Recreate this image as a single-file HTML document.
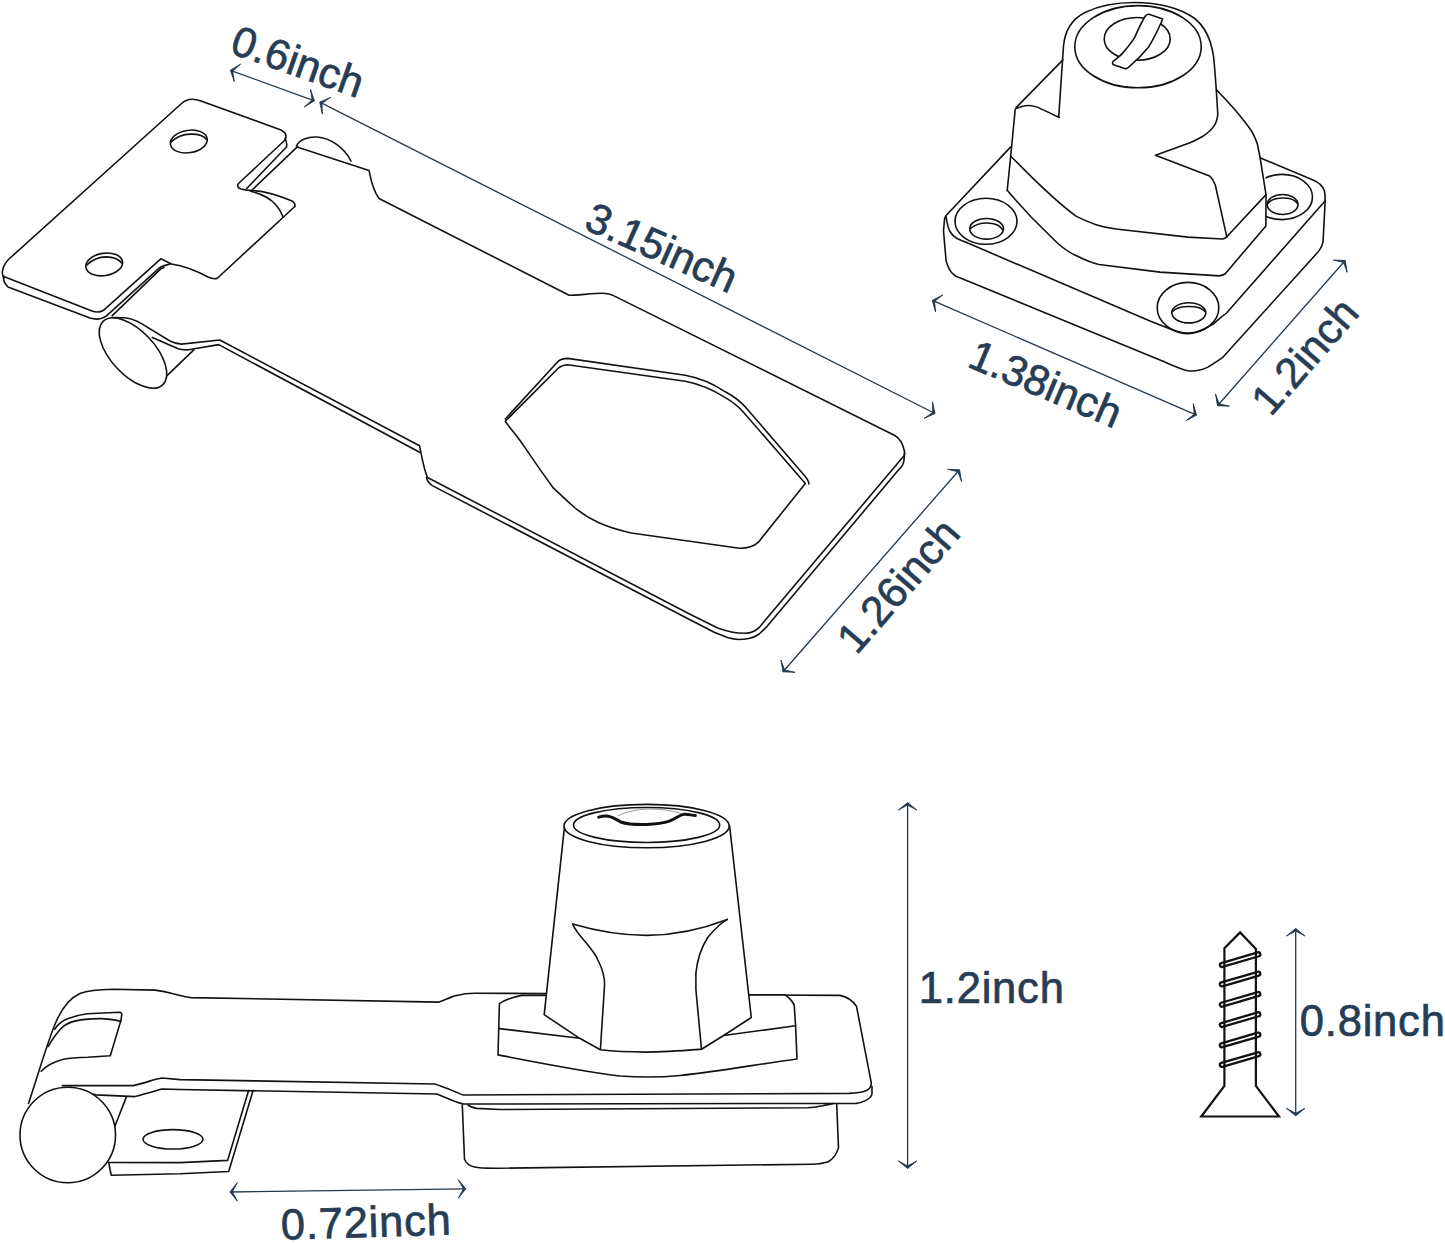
<!DOCTYPE html>
<html><head><meta charset="utf-8"><title>Hasp lock dimensions</title>
<style>
html,body{margin:0;padding:0;background:#fff;}
body{width:1445px;height:1243px;overflow:hidden;}
svg{display:block;}
.l{fill:none;stroke:#111;stroke-width:1.6;stroke-linejoin:round;stroke-linecap:round;}
.sc{fill:#fff;stroke:#111;stroke-width:2.2;stroke-linejoin:miter;}
.dl{fill:none;stroke:#24394d;stroke-width:1.3;stroke-linecap:butt;}
.ah{fill:#24394d;stroke:#24394d;stroke-width:0.9;stroke-linejoin:miter;}
.th{fill:none;stroke:#111;stroke-width:2.3;}
.t{font-family:"Liberation Sans",sans-serif;font-size:43.5px;letter-spacing:0.8px;fill:#263d55;stroke:#263d55;stroke-width:0.7px;text-anchor:middle;}
.t.r{letter-spacing:0;font-size:42.5px;}
</style></head>
<body>
<svg width="1445" height="1243" viewBox="0 0 1445 1243">
<!-- ===== HASP (top-left) ===== -->
<g id="hasp">
<!-- hinge leaf top surface -->
<path class="l" d="M4,278 C1,274 2,266 9,259 L181,104 C186,99 193,98 201,101 L281,130 C286,132.5 287,136 285,140 L238.5,183.5 C237,185.5 237.5,188 241,189 C245,190 248,190.5 251.5,190.5 C262,191 275,194 290.8,200.6 C294,202 295.5,203.5 294.8,206.5"/>
<!-- hinge leaf notch / lower tab -->
<path class="l" d="M294.8,206.5 L217.6,278 C215,279.5 213,279.3 208,277 C195,270 185,266 171.5,264 L160.8,258.8 L103.5,310.3 C100,312.5 96,312.5 92,311 L5,277"/>
<!-- leaf thickness -->
<path class="l" d="M4,276 C3,279 4,283 8,287 L90,318 C96,320 102,319 106.5,315.8 L159.7,267.7 C162,266 165,265.5 170.7,263.8"/>
<path class="l" d="M285,138.5 C286.5,141 287,144 286.5,147 L246.7,188.5"/>
<path class="l" d="M297.8,146.3 L251.6,190.5"/>
<path class="l" d="M112,315.8 L160.8,268.8 L164,267.5"/>
<path class="l" d="M250.5,191.2 C260,193.5 270,198 276,205 C279.5,209 281.5,212.5 282.9,216.7"/>
<!-- leaf holes -->
<ellipse class="l" cx="188.8" cy="141.5" rx="18.6" ry="11.2" transform="rotate(-9 188.8 141.5)"/>
<path class="l" d="M170.8,142.4 C176,137 184,134 191.1,134.1 C198,134 204,136 206.5,139.5"/>
<ellipse class="l" cx="104.2" cy="264.4" rx="18.5" ry="11.2" transform="rotate(-9 104.2 264.4)"/>
<path class="l" d="M86.6,265.1 C92,260 99,257 106,256.9 C113,257 119,259.5 122,263.3"/>
<!-- knuckle cap top -->
<path class="l" d="M296.5,146 C299,140 308,136.5 317,137 C330,138 344,147 351,161"/>
<!-- hasp top edge -->
<path class="l" d="M297,147 L369,170.6 C370.5,176 371.5,188 379,198.5 L569.1,295.3 C575,295.2 585,294.2 595.4,293.5 C600,293.2 603,293.2 605.7,293.5 C608,293.8 610,294.3 612,294.9 L894.8,435.5 C899,438 903,444 904.4,451 C904.8,453 904.5,455 903.8,456 L759.2,627.4 C755,631.5 750,633.3 745.4,633.3 C740,633.3 735,632.8 731.5,632 C727,631 722,629.5 717.7,628 L690,614.2 L427.5,477.5 C424,470 422,458 419.5,445.7 L219.8,340 L181.4,344.1 C176,344 173,342.5 170,341 L141.9,323.9 C135,320 130,318 124,317.8 L113.9,317.6"/>
<!-- hasp thickness -->
<path class="l" d="M904.4,453 C904.5,459 903.5,463 902.5,465.1 C901.5,467 900.5,468 899.3,469 L766.1,627.4 C763,630.5 761,632.5 759.2,634 C755,637 752,638 748.8,638.5 C745,639.2 741,639.5 738.4,639.5 C734,639.2 731,638.5 728.1,637.8 L714.2,632.2 L690,619.8 L432.3,485.6 C429.5,484 427.5,481 426.5,477.5 M419.6,452.2 L218.7,344.6 L188.6,349.8 C183,350 180,349.5 178.2,348.8 L152.3,337.4"/>
<!-- hinge pin -->
<ellipse class="l" cx="133" cy="353" rx="43.5" ry="22" transform="rotate(47 133 353)"/>
<path class="l" d="M167.3,375.3 L193.8,349.8"/>
<!-- hex hole -->
<path class="l" d="M505.3,419 L558.2,361.2 C561,359 564,358.4 567.6,358.4 L685.3,375.3 C700,378 715,385 725.3,391.8 C735,397 741,402 746.5,408.2 L805.3,476.5 C808,480 809,482 808.8,484"/>
<path class="l" d="M505.3,421.2 L558.2,368.2 C561,366 564,364.7 567.6,364.7 L685.3,381.2 C700,384 715,391 725.3,397.6 C733,402 739,407 744.1,412.9 L805.3,483.5 L758.2,542.4 C754,546 748,548.5 739.4,548.2 L631.2,533 C605,527 590,520 575,508 C565,499 560,494 553.5,488.2 C540,470 528,452 520.6,441.2 C514,432 508,426 505.3,421.2 Z"/>
</g>
<!-- dims hasp -->
<g id="dims1">
<path class="dl" d="M230.4,70.3 L314.4,100.8"/>
<path class="ah" d="M230.4,70.3 L240.6,64.1 L232.7,71.2 L234.3,81.6 Z M314.4,100.8 L304.2,107.0 L312.1,99.9 L310.5,89.5 Z"/>
<path class="dl" d="M319.8,102.2 L935,413.5"/>
<path class="ah" d="M319.8,102.2 L330.7,97.3 L322.0,103.3 L322.3,113.9 Z M935.0,413.5 L924.1,418.4 L932.8,412.4 L932.5,401.8 Z"/>
<path class="dl" d="M959.5,469.8 L783,671.8"/>
<path class="ah" d="M959.5,469.8 L961.6,481.6 L957.9,471.7 L947.6,469.3 Z M783.0,671.8 L780.9,660.0 L784.6,669.9 L794.9,672.3 Z"/>
<path class="dl" d="M932.3,300.4 L1196.5,415.2"/>
<path class="ah" d="M932.3,300.4 L942.9,294.9 L934.6,301.4 L935.5,311.9 Z M1196.5,415.2 L1185.9,420.7 L1194.2,414.2 L1193.3,403.7 Z"/>
<path class="dl" d="M1217.5,405.7 L1345.2,260.5"/>
<path class="ah" d="M1217.5,405.7 L1215.5,393.9 L1219.2,403.8 L1229.4,406.2 Z M1345.2,260.5 L1347.2,272.3 L1343.5,262.4 L1333.3,260.0 Z"/>
<path class="dl" d="M229.9,1192 L465.8,1188.8"/>
<path class="ah" d="M229.9,1192.0 L237.3,1182.6 L232.4,1192.0 L237.5,1201.2 Z M465.8,1188.8 L458.4,1198.2 L463.3,1188.8 L458.2,1179.6 Z"/>
<path class="dl" d="M907.6,802.6 L907.6,1168.4"/>
<path class="ah" d="M907.6,802.6 L916.9,810.1 L907.6,805.1 L898.3,810.1 Z M907.6,1168.4 L898.3,1160.9 L907.6,1165.9 L916.9,1160.9 Z"/>
<path class="dl" d="M1295.7,928.5 L1295.7,1115.8"/>
<path class="ah" d="M1295.7,928.5 L1305.0,936.0 L1295.7,931.0 L1286.4,936.0 Z M1295.7,1115.8 L1286.4,1108.3 L1295.7,1113.3 L1305.0,1108.3 Z"/>

<text class="t r" transform="translate(298.2,60.7) rotate(19.5)" y="15.5">0.6inch</text>
<text class="t r" transform="translate(662.2,246.8) rotate(24)" y="15.5">3.15inch</text>
<text class="t r" transform="translate(897.5,585) rotate(-49)" y="15.5">1.26inch</text>
</g>
<!-- ===== LOCK (top-right) ===== -->
<defs><clipPath id="cbr"><rect x="1265.5" y="150" width="80" height="100"/></clipPath></defs>
<g id="lock">
<!-- cylinder -->
<path class="l" d="M1058.7,117.1 L1063.5,46 C1065,30 1072,19 1085,12.5 C1100,5 1118,2.5 1135,2.5 C1158,2.5 1180,8 1194,18 C1206,27 1211,40 1213.5,56 C1215,70 1216,85 1216.9,99.7 L1217.8,113.8 C1217.5,119 1216,123 1214.1,125.9 C1210.5,131 1206,134.5 1202.1,136.7 C1196,140 1192,142 1187.9,143.6 L1155.5,155.3 L1209.5,175.9 C1212,178 1214,181 1215.3,185 L1226.8,236.8"/>
<ellipse class="l" cx="1138" cy="46.7" rx="63.2" ry="41.1"/>
<ellipse class="l" cx="1137.2" cy="38.9" rx="33" ry="21.4"/>
<path class="l" fill="#fff" style="fill:#fff" d="M1145,16.5 C1146,15 1147,14 1149,14.3 L1162.7,19 C1158,30 1153,40 1148.4,47.3 C1143,54 1136,61 1128.5,67.3 C1127,68.5 1125.5,68.8 1124.7,68.5 L1113.5,64.8 C1112,63.5 1112.5,62 1113.5,61 C1117,58 1120,56 1122.2,53.6 C1128,47 1132,42 1134.7,37.4 C1138,30 1141,23 1145,16.5 Z"/>
<!-- wings / body -->
<path class="l" d="M1062.9,59.9 L1016.1,107.6"/>
<path class="l" d="M1016.1,108.5 C1022,106 1028,105 1031.4,105.8 C1036,106.5 1040,108 1042.2,109.4 L1059.3,117.5"/>
<path class="l" d="M1015.2,109.4 L1010.7,156.2 L1007.2,190.3"/>
<path class="l" d="M1010.7,156.2 C1030,175 1050,197 1076.4,216.4 C1090,223 1100,227 1116,229 L1187.9,237.1 L1222.4,239 C1224.5,238.5 1226,237.5 1226.8,236.8 L1266,194.6"/>
<path class="l" d="M1216.5,89.7 C1225,99 1232,106 1238.3,113.8 C1245,122 1250,128 1252.7,133.1 C1255,138 1257,142 1257.6,145.2 L1260,157.2 L1266,194.6 L1265.9,225.9 L1225.3,273.7 C1224,274.5 1222,275.5 1219.5,275.9 L1160,272.1 L1099,264.5 C1092,263 1085,260 1077,256 C1070,253 1065,250 1056.8,242.5 L1031.4,217.2 C1020,205 1012,196 1007.2,190.3"/>
<!-- base plate -->
<path class="l" d="M1010.5,147.1 L946.1,215.5 C945,217 944.5,219 944.4,220.6 L943.5,230.7 L946.1,261.1 C948,267 950,271 952,273 C955,276 957.5,277.5 960.4,278 L1160,360 C1170,364 1180,369 1187.7,370.8 C1195,371.5 1202,370 1207.9,367.1 C1213,364 1218,361 1222.4,357.7 L1318,252 C1321,248 1323,244 1323.1,240.4 L1325.2,200.7"/>
<path class="l" d="M946,216.5 C947,223 948,228 950,231.5 C952,235 954,237 957,238.5 C960,240 963,241 966,242.3 L1150,321 L1179,332.4 C1185,334 1190,334 1193.4,333.1 C1202,331 1208,327 1213.7,323.7 C1218,320 1222,316 1226.8,312.8 L1325.2,200.7"/>
<path class="l" d="M1260,157.8 L1313,180 C1319,182.5 1323,186 1324.5,191 C1325,194 1325.2,197 1325.2,200.7"/>
<!-- counterbores -->
<ellipse class="l" cx="986" cy="221.3" rx="31" ry="23"/>
<ellipse class="l" cx="986.6" cy="228.8" rx="16.9" ry="10.3"/>
<path class="l" d="M970.4,228.5 C975,224.5 981,223 987,223 C994,223 1000,225 1003,230"/>
<ellipse class="l" cx="1282" cy="197" rx="30.5" ry="22.6" clip-path="url(#cbr)"/>
<ellipse class="l" cx="1282.6" cy="204.5" rx="15.4" ry="10"/>
<path class="l" d="M1268,203.5 C1271,199.5 1276,198 1283,198 C1290,198 1295,199.5 1297.5,203.5"/>
<ellipse class="l" cx="1188" cy="307.7" rx="30.8" ry="25.3"/>
<ellipse class="l" cx="1188.8" cy="312.8" rx="17" ry="10.1"/>
<path class="l" d="M1172.5,311.5 C1176,307.5 1182,306.5 1189,306.5 C1196,306.5 1202,307.5 1205,311.5"/>
</g>
<g id="dims2">
<text class="t r" transform="translate(1046,383) rotate(23)" y="15.5">1.38inch</text>
<text class="t r" transform="translate(1304,355.5) rotate(-49)" y="15.5">1.2inch</text>
</g>
<!-- ===== ASSEMBLY side view (bottom-left) ===== -->
<g id="asm">
<path class="l" d="M28.5,1103.4 C38,1075 48,1040 56,1022 C62,1008 70,998 80,993.5 C88,990.5 95,989.7 113,989.3 L155.2,990.1 C162,991 167,992 172.1,993.5 C178,995 185,997 191.1,997.6 L439.1,1002.1 C445,1000 450,997 456.8,995.4 C462,994 468,993.2 474.5,993.2 L839.9,995.4 C848,997 853,1001 856.5,1006.4 L871.3,1082.8"/>
<path class="l" d="M62.3,1085.6 L133.2,1085.6 C145,1083 155,1079 162,1078 L180,1079.6 L434.7,1084 C445,1087 455,1092 463.4,1095 L849.2,1093.4 C856,1093.2 862,1092.5 866,1090.8 C869.5,1089.3 871.3,1087 871.3,1083"/>
<path class="l" d="M70.7,1087.3 C80,1090 88,1093 96,1094.9 L134.9,1096.6 C145,1094 155,1091 162,1089 L180,1089.5 L436.9,1094 C447,1098 455,1102 463.4,1104 L856.1,1103.4 C861,1102.8 864,1101.5 866.5,1100.1 C870,1098 872,1095.5 872,1093.2 L872,1086.5"/>
<path class="l" d="M54.7,1029.2 C58,1024 63,1020.5 68.3,1018.6 C75,1016 81,1014.5 87.6,1013.8 L119.4,1012.3 C121,1012.5 122,1013.5 121.8,1014.3 L120.9,1020.5 L110.3,1055.8 L87.6,1057.2 C78,1057.5 70,1058 63.4,1059.2 C53,1062 46,1066 41.2,1071.2"/>
<path class="l" d="M48,1046.6 C53,1038 58,1031 63.4,1026.3 C69,1022 76,1020.3 82.7,1019.6 C90,1018.8 96,1018.5 102,1018.6 C110,1019 116,1020 120.6,1021.5"/>
<!-- tab -->
<path class="l" d="M126.5,1096.6 L114.6,1127"/>
<path class="l" d="M108.7,1162.5 L180,1162.6 L227.6,1160.4 L248.6,1090.6"/>
<path class="l" d="M108.7,1162.5 C109.5,1167 110.5,1172 111.3,1175.2 L180,1173.7 L228.7,1171.5 L253.1,1090.6"/>
<ellipse class="l" cx="173" cy="1139.3" rx="30" ry="9.7"/>
<circle class="l" style="fill:#fff" cx="67.75" cy="1135" r="47.75"/>
<!-- box under -->
<path class="l" d="M462.3,1105 L464.5,1159.3 C466,1163 470,1166 474.5,1167 C478,1168 485,1168.3 500,1168.2 L812.2,1164.2 C820,1164 825,1163 828.8,1161.5 C834,1158 837,1153 838.5,1147.6 L836.7,1104.3"/>
<path class="l" d="M467.9,1105 C470,1106.5 473,1108 476.7,1108.4 L500,1109.5 L807.7,1107.8 C813,1107.5 818,1106.6 822.9,1105.7 C826,1105 829,1104.3 832.6,1103.6"/>
<!-- hex nut -->
<path class="l" style="fill:#fff" d="M499.4,1003.7 C505,1000 513,997 521.5,995.4 L784.5,994.8 C789,997 792,1001 794.2,1005 L795.6,1025.8 L797,1059 C760,1064 720,1071 680,1075.5 C660,1077.5 640,1077.5 620,1076 C585,1072 540,1063 498,1054.9 Z"/>
<path class="l" d="M499.4,1028.6 L579.7,1038.3 M723.6,1035.5 L795.6,1025.8"/>
<!-- cylinder -->
<path class="l" style="fill:#fff" d="M564.4,827.3 L544.2,1014.7 L579.7,1038.3 L600.4,1049.8 C615,1051.5 630,1052 646.1,1052.1 C665,1052 685,1050.5 701.5,1049.3 L723.6,1035.5 L751.3,1017.5 L729.6,825.8 Z"/>
<ellipse class="l" style="fill:#fff" cx="646.6" cy="826.1" rx="82.6" ry="21.7"/>
<ellipse class="l" cx="646.6" cy="825" rx="73.1" ry="17.5"/>
<path fill="none" stroke="#999" stroke-width="1" d="M617.7,815.9 C628,811 640,809 649.6,809 C662,809 673,811 681.6,813.6"/>
<path fill="none" stroke="#111" stroke-width="3" stroke-linecap="round" d="M598.6,817.1 C603,816 607,815.8 610,816.6 C614,817.5 617,820 620.7,822 C628,824.5 637,824.8 646.6,824.5 C656,824.2 664,823 669.4,821.2 C675,819 679,815.5 683.1,814.4 C687,814 691,815 695.3,815.6"/>
<path class="l" d="M572.7,924 C600,932 625,935.4 646.6,935.4 C680,935 705,928 727.3,919.4"/>
<path class="l" d="M572.7,924 C575,930 580,936 585.7,942.3 C592,950 596,955 597.9,960 C602,968 604.6,976 604.6,984.3 L600.4,1049.3"/>
<path class="l" d="M727.3,919.4 C722,922 714,930 707.5,937.7 C701,948 697,962 695.9,973.2 L695.9,989.8 L701.5,1049.3"/>
</g>
<g id="screw">
<path class="sc" d="M1224.4,1086 L1224.4,948.1 L1240.1,932.4 L1255.9,949 L1255.9,1086 L1279,1116.5 L1201.3,1116.5 Z"/>
<rect class="th" x="-21" y="-2" width="42" height="4" rx="2" transform="translate(1240.1,959.65) rotate(-16.3)"/>
<rect class="th" x="-21" y="-2" width="42" height="4" rx="2" transform="translate(1240.1,979.05) rotate(-16.3)"/>
<rect class="th" x="-21" y="-2" width="42" height="4" rx="2" transform="translate(1240.1,999.35) rotate(-16.3)"/>
<rect class="th" x="-21" y="-2" width="42" height="4" rx="2" transform="translate(1240.1,1019.6500000000001) rotate(-16.3)"/>
<rect class="th" x="-21" y="-2" width="42" height="4" rx="2" transform="translate(1240.1,1039.95) rotate(-16.3)"/>
<rect class="th" x="-21" y="-2" width="42" height="4" rx="2" transform="translate(1240.1,1059.55) rotate(-16.3)"/>
</g>
<g id="dims3">
<text class="t" transform="translate(366.2,1221.8) rotate(-1.8)" y="15.3">0.72inch</text>
<text class="t" transform="translate(991.7,988)" y="15.3">1.2inch</text>
<text class="t" transform="translate(1372.7,1020.3)" y="15.3">0.8inch</text>
</g>
</svg>
</body></html>
